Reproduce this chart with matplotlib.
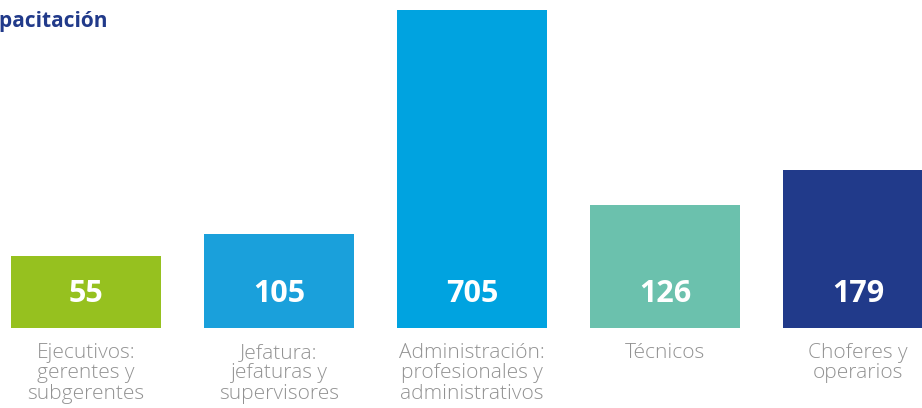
import matplotlib
matplotlib.use('Agg')
from matplotlib import pyplot as plt

# data
categories = ['Ejecutivos:\ngerentes y\nsubgerentes',
              'Jefatura:\njefaturas y\nsupervisores',
              'Administración:\nprofesionales y\nadministrativos',
              'Técnicos',
              'Choferes y\noperarios']
values = [55, 105, 705, 126, 179]
# visual bar heights as drawn in the source (not proportional to values)
bar_heights = [72, 94, 318, 123, 158]
colors = ['#96c11f', '#1aa0db', '#00a3e0', '#6bc1ad', '#213a8a']
title = 'Capacitación'


def main():
    fig = plt.figure(figsize=(9.22, 4.08), dpi=100)
    ax = fig.add_axes([0, 0, 1, 1])
    xs = list(range(len(values)))
    ax.bar(xs, bar_heights, width=150/193, color=colors)
    for x, v in zip(xs, values):
        ax.text(x, 34, str(v), ha='center', va='center', color='white',
                fontsize=22, fontweight='bold', family='Open Sans')
    for x, c in zip(xs, categories):
        ax.text(x, -15, c, ha='center', va='top', color='#929292',
                fontsize=15, fontweight='light', family='Open Sans',
                linespacing=1.03)
    ax.set_xlim(-86/193, (922-86)/193)
    ax.set_ylim(-80, 328)
    ax.axis('off')
    # title is clipped by the left edge in the source
    fig.text(108/922, 1 - 22/408, title, ha='right', va='center',
             color='#213a8a', fontsize=15, fontweight='bold',
             family='Open Sans')
    fig.savefig('out.png', dpi=100)


if __name__ == '__main__':
    main()
